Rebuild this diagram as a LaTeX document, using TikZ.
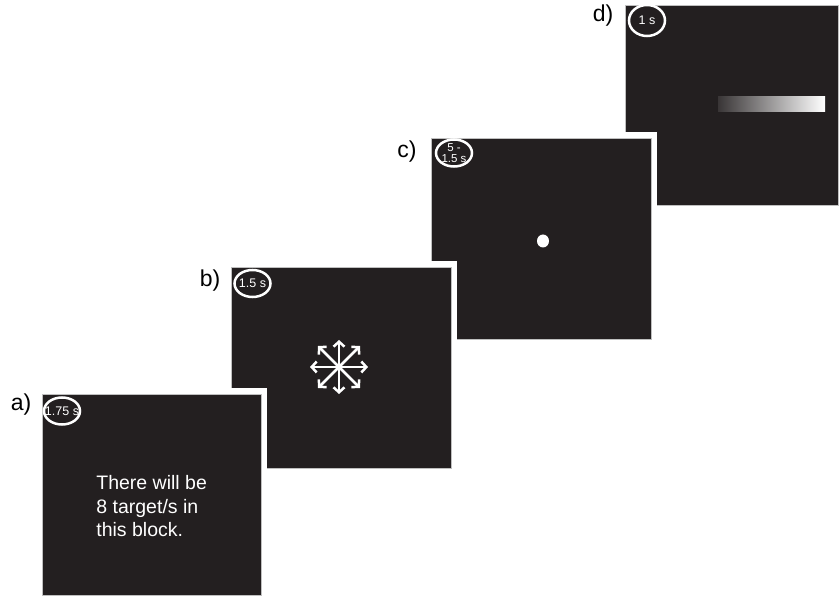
\documentclass[tikz,border=0pt]{standalone}
\usepackage{fontspec}
\setmainfont{Liberation Sans}
\usetikzlibrary{shapes.geometric,arrows.meta}
\definecolor{scrbg}{RGB}{35,31,32}

\begin{document}
\begin{tikzpicture}[x=1pt,y=-1pt,>={Straight Barb[length=5pt,width=11pt]}, line width=0.8pt]
                \tikzstyle{screen} = [fill=scrbg, draw=gray!50, line width=0.6pt, rectangle, inner sep=0pt, outer sep=0pt, minimum width=220pt, minimum height=201pt, preaction={draw=white, line width=11pt}]
                \tikzstyle{timer} = [draw=white, line width=2.5pt, ellipse, inner sep=0pt, minimum width=36pt, minimum height=27pt]
                \tikzstyle{timertext} = [text=white, inner sep=0pt, align=center, font=\fontsize{12.5}{11}\selectfont]
                \tikzstyle{panel} = [font=\fontsize{23}{23}\selectfont, inner sep=0pt]
                \tikzstyle{cue} = [white, line width=2.5pt, <->]

                \useasboundingbox (0,0) rectangle (839,596);

                % Screens, back to front
                \node[screen, minimum width=213pt, minimum height=200pt] (sd) at (731.5,105) {};
                \node[screen] (sc) at (541,238.5) {};
                \node[screen] (sb) at (341,367.5) {};
                \node[screen, minimum width=219pt] (sa) at (151.5,494.5) {};

                % Panel labels
                \node[panel] (la) at (21,405) {a)};
                \node[panel] (lb) at (210,281) {b)};
                \node[panel] (lc) at (407,152) {c)};
                \node[panel] (ld) at (603,16) {d)};

                % Timers
                \node[timer, label={[timertext]center:1.75 s}] (ta) at (62,411) {};
                \node[timer, label={[timertext]center:1.5 s}] (tb) at (252.5,283.5) {};
                \node[timer, label={[timertext, font=\fontsize{11.5}{10.5}\selectfont]center:5 -\\1.5 s}] (tc) at (454,153) {};
                \node[timer, minimum height=31pt, label={[timertext]center:1 s}] (td) at (647,20.5) {};

                % a) instruction
                \node[text=white, align=left, anchor=north west, inner sep=0pt, font=\fontsize{19.5}{23.5}\selectfont] (msg) at (96,475) {There will be\\8 target/s in\\this block.};

                % b) cue
                \coordinate (star) at (339,367);
                \draw[cue] (star) ++(-29,0) -- ++(58,0);
                \draw[cue] (star) ++(0,-27) -- ++(0,54);
                \draw[cue] (star) ++(-21,-21) -- ++(42,42);
                \draw[cue] (star) ++(-21,21) -- ++(42,-42);

                % c) fixation dot
                \node[fill=white, ellipse, inner sep=0pt, minimum width=12pt, minimum height=13pt] (dot) at (543,241) {};

                % d) response bar
                \node[left color=scrbg!90!white, right color=white, rectangle, inner sep=0pt, minimum width=107pt, minimum height=15pt] (bar) at (771.5,104.5) {};
            \end{tikzpicture}
\end{document}
